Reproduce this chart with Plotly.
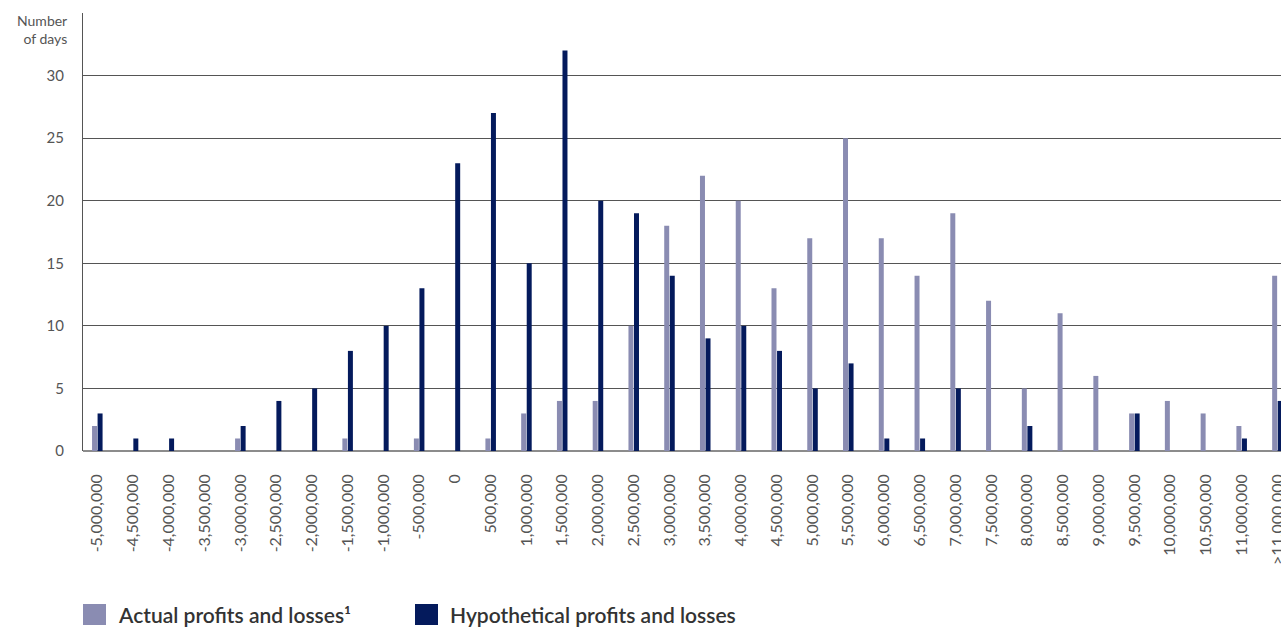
import plotly.graph_objects as go

categories = ["-5,000,000", "-4,500,000", "-4,000,000", "-3,500,000", "-3,000,000",
              "-2,500,000", "-2,000,000", "-1,500,000", "-1,000,000", "-500,000",
              "0", "500,000", "1,000,000", "1,500,000", "2,000,000", "2,500,000",
              "3,000,000", "3,500,000", "4,000,000", "4,500,000", "5,000,000",
              "5,500,000", "6,000,000", "6,500,000", "7,000,000", "7,500,000",
              "8,000,000", "8,500,000", "9,000,000", "9,500,000", "10,000,000",
              "10,500,000", "11,000,000", ">11,000,000"]

actual = [2, 0, 0, 0, 1, 0, 0, 1, 0, 1, 0, 1, 3, 4, 4, 10, 18, 22, 20, 13, 17,
          25, 17, 14, 19, 12, 5, 11, 6, 3, 4, 3, 2, 14]
hypothetical = [3, 1, 1, 0, 2, 4, 5, 8, 10, 13, 23, 27, 15, 32, 20, 19, 14, 9, 10,
                8, 5, 7, 1, 1, 5, 0, 2, 0, 0, 3, 0, 0, 1, 4]

y_ticks = [0, 5, 10, 15, 20, 25, 30, 35]
y_ticktext = ["0", "5", "10", "15", "20", "25", "30", ""]

grey = "#8a8cb2"
navy = "#041a5c"
txt = "#555555"
font_family = "Lato, 'Open Sans', sans-serif"

W, H = 1281, 628
L, R, T, B = 83, 0, 13, 177
PW, PH = W - L - R, H - T - B


def px_x(x):
    return (x - L) / PW


def px_y(y):
    return (H - B - y) / PH


fig = go.Figure()
fig.add_trace(go.Bar(x=categories, y=actual, name="Actual profits and losses¹",
                     marker=dict(color=grey, line=dict(width=0))))
fig.add_trace(go.Bar(x=categories, y=hypothetical, name="Hypothetical profits and losses",
                     marker=dict(color=navy, line=dict(width=0))))

fig.update_layout(
    width=W, height=H,
    margin=dict(l=L, r=R, t=T, b=B, autoexpand=False),
    paper_bgcolor="white", plot_bgcolor="white",
    barmode="group", bargap=0.69, bargroupgap=0.1,
    showlegend=False,
    font=dict(family=font_family, color=txt, size=13),
    xaxis=dict(
        type="category", range=[-0.40, 33.1], automargin=False,
        tickangle=-90, showgrid=False, ticks="",
        ticklabelstandoff=19,
        tickfont=dict(size=16, color=txt),
        showline=False, zeroline=False,
    ),
    yaxis=dict(
        range=[0, 35], tickvals=y_ticks, ticktext=y_ticktext, automargin=False,
        showgrid=True, gridcolor="#555555", gridwidth=1,
        zeroline=True, zerolinecolor="#8c8c8c", zerolinewidth=1.5,
        showline=True, linecolor="#555555", linewidth=1,
        ticks="", ticklabelstandoff=15,
        tickfont=dict(size=15, color=txt),
    ),
)

# y-axis title
fig.add_annotation(x=px_x(69), y=px_y(30), xref="paper", yref="paper",
                   text="Number<br>of days", showarrow=False,
                   xanchor="right", yanchor="middle", align="right",
                   font=dict(size=14, color=txt))

# Custom legend
legend_items = [("Actual profits and losses¹", grey, 83),
                ("Hypothetical profits and losses", navy, 415)]
for label, color, x0 in legend_items:
    fig.add_shape(type="rect", xref="paper", yref="paper",
                  x0=px_x(x0), x1=px_x(x0 + 23),
                  y0=px_y(625), y1=px_y(604),
                  fillcolor=color, line=dict(width=0))
    fig.add_annotation(xref="paper", yref="paper",
                       x=px_x(x0 + 33), y=px_y(615),
                       text=label, showarrow=False, xanchor="left", yanchor="middle",
                       font=dict(size=21, color="#333333", weight=600))

fig.write_html("out.html", config={"displayModeBar": False},
               post_script="document.body.style.margin='0';"
                           "document.body.style.overflow='hidden';")
